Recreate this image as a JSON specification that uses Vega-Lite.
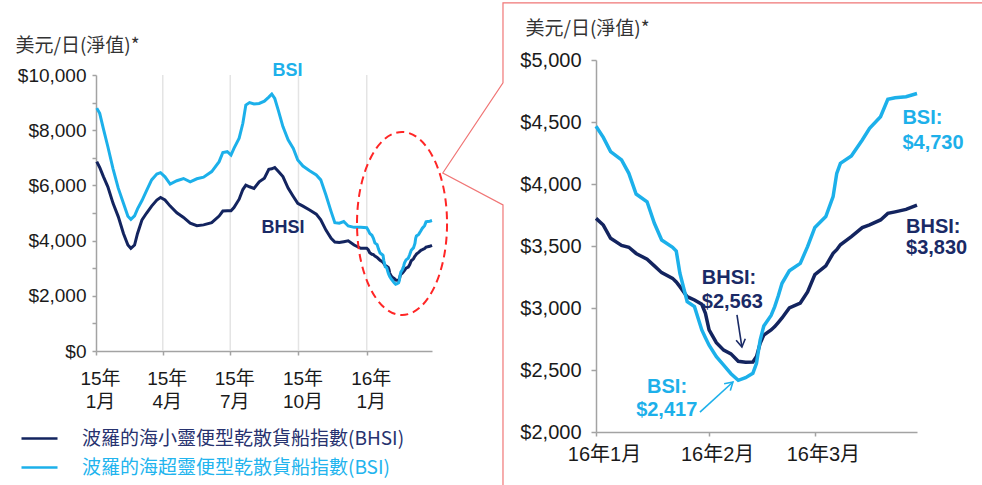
{
  "$schema": "https://vega.github.io/schema/vega-lite/v6.json",
  "width": 982,
  "height": 485,
  "autosize": {"type": "none"},
  "padding": 0,
  "background": "white",
  "config": {
    "view": {"stroke": null},
    "axis": {
      "labelFont": "Liberation Sans, Noto Sans CJK TC",
      "labelFontSize": 19,
      "labelColor": "#1a1a1a",
      "labelOverlap": false,
      "labelFlush": false,
      "domainColor": "#a3a3a3",
      "domainWidth": 1.5,
      "tickColor": "#a3a3a3",
      "tickWidth": 1.5,
      "tickSize": 4,
      "grid": false,
      "titleFont": "Noto Sans CJK TC",
      "titleFontSize": 19,
      "titleFontWeight": "normal",
      "titleColor": "#333333"
    }
  },
  "datasets": {
    "idx": [
      {"date": "2015-01-02", "BSI": 8800, "BHSI": 6860},
      {"date": "2015-01-06", "BSI": 8610, "BHSI": 6650},
      {"date": "2015-01-11", "BSI": 8050, "BHSI": 6320},
      {"date": "2015-01-17", "BSI": 7400, "BHSI": 5950},
      {"date": "2015-01-24", "BSI": 6600, "BHSI": 5350},
      {"date": "2015-01-31", "BSI": 5900, "BHSI": 4870},
      {"date": "2015-02-07", "BSI": 5350, "BHSI": 4260},
      {"date": "2015-02-13", "BSI": 4880, "BHSI": 3840},
      {"date": "2015-02-17", "BSI": 4770, "BHSI": 3720},
      {"date": "2015-02-22", "BSI": 4900, "BHSI": 3840},
      {"date": "2015-02-26", "BSI": 5150, "BHSI": 4260},
      {"date": "2015-03-04", "BSI": 5450, "BHSI": 4750},
      {"date": "2015-03-10", "BSI": 5800, "BHSI": 4990},
      {"date": "2015-03-17", "BSI": 6200, "BHSI": 5250},
      {"date": "2015-03-24", "BSI": 6410, "BHSI": 5470},
      {"date": "2015-03-29", "BSI": 6460, "BHSI": 5560},
      {"date": "2015-04-04", "BSI": 6310, "BHSI": 5470},
      {"date": "2015-04-11", "BSI": 6050, "BHSI": 5250},
      {"date": "2015-04-20", "BSI": 6170, "BHSI": 5010},
      {"date": "2015-04-29", "BSI": 6250, "BHSI": 4840},
      {"date": "2015-05-08", "BSI": 6130, "BHSI": 4630},
      {"date": "2015-05-17", "BSI": 6240, "BHSI": 4540},
      {"date": "2015-05-26", "BSI": 6300, "BHSI": 4570},
      {"date": "2015-06-06", "BSI": 6500, "BHSI": 4650},
      {"date": "2015-06-16", "BSI": 6860, "BHSI": 4890},
      {"date": "2015-06-21", "BSI": 7190, "BHSI": 5070},
      {"date": "2015-06-27", "BSI": 7220, "BHSI": 5080},
      {"date": "2015-07-02", "BSI": 7100, "BHSI": 5080},
      {"date": "2015-07-06", "BSI": 7340, "BHSI": 5200},
      {"date": "2015-07-13", "BSI": 7710, "BHSI": 5500},
      {"date": "2015-07-18", "BSI": 8250, "BHSI": 5850},
      {"date": "2015-07-22", "BSI": 8910, "BHSI": 6010},
      {"date": "2015-07-27", "BSI": 9000, "BHSI": 5950},
      {"date": "2015-08-02", "BSI": 8950, "BHSI": 5890},
      {"date": "2015-08-09", "BSI": 8970, "BHSI": 6130},
      {"date": "2015-08-16", "BSI": 9050, "BHSI": 6260},
      {"date": "2015-08-22", "BSI": 9200, "BHSI": 6580},
      {"date": "2015-08-26", "BSI": 9310, "BHSI": 6600},
      {"date": "2015-08-30", "BSI": 9150, "BHSI": 6650},
      {"date": "2015-09-04", "BSI": 8700, "BHSI": 6500},
      {"date": "2015-09-10", "BSI": 8130, "BHSI": 6320},
      {"date": "2015-09-17", "BSI": 7650, "BHSI": 5900},
      {"date": "2015-09-24", "BSI": 7340, "BHSI": 5600},
      {"date": "2015-09-30", "BSI": 6920, "BHSI": 5350},
      {"date": "2015-10-07", "BSI": 6700, "BHSI": 5250},
      {"date": "2015-10-16", "BSI": 6530, "BHSI": 5110},
      {"date": "2015-10-25", "BSI": 6380, "BHSI": 4960},
      {"date": "2015-10-31", "BSI": 6200, "BHSI": 4750},
      {"date": "2015-11-07", "BSI": 5650, "BHSI": 4380},
      {"date": "2015-11-14", "BSI": 5050, "BHSI": 4080},
      {"date": "2015-11-19", "BSI": 4650, "BHSI": 3950},
      {"date": "2015-11-25", "BSI": 4630, "BHSI": 3930},
      {"date": "2015-12-01", "BSI": 4690, "BHSI": 3960},
      {"date": "2015-12-07", "BSI": 4530, "BHSI": 3990},
      {"date": "2015-12-15", "BSI": 4480, "BHSI": 3840},
      {"date": "2015-12-24", "BSI": 4480, "BHSI": 3720},
      {"date": "2016-01-01", "BSI": 4465, "BHSI": 3723},
      {"date": "2016-01-03", "BSI": 4376, "BHSI": 3669},
      {"date": "2016-01-05", "BSI": 4261, "BHSI": 3562},
      {"date": "2016-01-08", "BSI": 4194, "BHSI": 3505},
      {"date": "2016-01-10", "BSI": 4086, "BHSI": 3490},
      {"date": "2016-01-12", "BSI": 3919, "BHSI": 3440},
      {"date": "2016-01-15", "BSI": 3857, "BHSI": 3393},
      {"date": "2016-01-17", "BSI": 3683, "BHSI": 3340},
      {"date": "2016-01-19", "BSI": 3548, "BHSI": 3285},
      {"date": "2016-01-22", "BSI": 3490, "BHSI": 3239},
      {"date": "2016-01-23", "BSI": 3460, "BHSI": 3210},
      {"date": "2016-01-24", "BSI": 3280, "BHSI": 3172},
      {"date": "2016-01-26", "BSI": 3051, "BHSI": 3091},
      {"date": "2016-01-28", "BSI": 3011, "BHSI": 3065},
      {"date": "2016-01-30", "BSI": 2823, "BHSI": 3030},
      {"date": "2016-01-31", "BSI": 2760, "BHSI": 2957},
      {"date": "2016-02-01", "BSI": 2700, "BHSI": 2823},
      {"date": "2016-02-03", "BSI": 2608, "BHSI": 2720},
      {"date": "2016-02-05", "BSI": 2540, "BHSI": 2660},
      {"date": "2016-02-07", "BSI": 2470, "BHSI": 2630},
      {"date": "2016-02-09", "BSI": 2417, "BHSI": 2570},
      {"date": "2016-02-11", "BSI": 2438, "BHSI": 2563},
      {"date": "2016-02-13", "BSI": 2473, "BHSI": 2565},
      {"date": "2016-02-14", "BSI": 2554, "BHSI": 2608},
      {"date": "2016-02-15", "BSI": 2742, "BHSI": 2715},
      {"date": "2016-02-16", "BSI": 2855, "BHSI": 2782},
      {"date": "2016-02-18", "BSI": 2940, "BHSI": 2823},
      {"date": "2016-02-19", "BSI": 3011, "BHSI": 2850},
      {"date": "2016-02-20", "BSI": 3100, "BHSI": 2885},
      {"date": "2016-02-21", "BSI": 3199, "BHSI": 2920},
      {"date": "2016-02-23", "BSI": 3300, "BHSI": 3000},
      {"date": "2016-02-26", "BSI": 3360, "BHSI": 3040},
      {"date": "2016-02-28", "BSI": 3495, "BHSI": 3130},
      {"date": "2016-03-01", "BSI": 3650, "BHSI": 3270},
      {"date": "2016-03-04", "BSI": 3737, "BHSI": 3340},
      {"date": "2016-03-06", "BSI": 3898, "BHSI": 3441},
      {"date": "2016-03-07", "BSI": 4086, "BHSI": 3470},
      {"date": "2016-03-08", "BSI": 4167, "BHSI": 3510},
      {"date": "2016-03-11", "BSI": 4226, "BHSI": 3575},
      {"date": "2016-03-14", "BSI": 4355, "BHSI": 3648},
      {"date": "2016-03-16", "BSI": 4449, "BHSI": 3670},
      {"date": "2016-03-19", "BSI": 4543, "BHSI": 3710},
      {"date": "2016-03-21", "BSI": 4683, "BHSI": 3763},
      {"date": "2016-03-23", "BSI": 4696, "BHSI": 3775},
      {"date": "2016-03-26", "BSI": 4704, "BHSI": 3795},
      {"date": "2016-03-29", "BSI": 4730, "BHSI": 3830}
    ],
    "quarters": [
      {"date": "2015-04-01"},
      {"date": "2015-07-01"},
      {"date": "2015-10-01"},
      {"date": "2016-01-01"}
    ],
    "focus": [
      {"date": "2016-02-17T14:00:00Z", "value": 4620}
    ],
    "callout": [
      {"pt": 1, "date": "2016-04-18", "value": 5460},
      {"pt": 2, "date": "2015-12-06T12:00:00Z", "value": 5460},
      {"pt": 3, "date": "2015-12-06T12:00:00Z", "value": 4815},
      {"pt": 4, "date": "2015-11-20", "value": 4089},
      {"pt": 5, "date": "2015-12-06T12:00:00Z", "value": 3831},
      {"pt": 6, "date": "2015-12-06T12:00:00Z", "value": 1532}
    ],
    "labelsL": [
      {"date": "2015-08-27", "value": 10145, "text": "BSI", "series": "BSI"},
      {"date": "2015-08-12", "value": 4457, "text": "BHSI", "series": "BHSI"}
    ],
    "labelsR": [
      {"date": "2016-03-25", "value": 4532, "text": "BSI:", "series": "BSI"},
      {"date": "2016-03-25", "value": 4331, "text": "$4,730", "series": "BSI"},
      {"date": "2016-03-26", "value": 3653, "text": "BHSI:", "series": "BHSI"},
      {"date": "2016-03-26", "value": 3484, "text": "$3,830", "series": "BHSI"},
      {"date": "2016-01-30", "value": 3242, "text": "BHSI:", "series": "BHSI"},
      {"date": "2016-01-30", "value": 3048, "text": "$2,563", "series": "BHSI"},
      {"date": "2016-01-15", "value": 2363, "text": "BSI:", "series": "BSI"},
      {"date": "2016-01-12", "value": 2177, "text": "$2,417", "series": "BSI"}
    ],
    "arrows": [
      {"series": "BHSI", "date": "2016-02-08T15:30:00Z", "value": 2944, "date2": "2016-02-10T00:00:00Z", "value2": 2685},
      {"series": "BSI", "date": "2016-01-29T12:00:00Z", "value": 2161, "date2": "2016-02-07T13:00:00Z", "value2": 2403}
    ]
  },
  "layer": [
    {
      "layer": [
        {
          "data": {"name": "quarters"},
          "mark": {"type": "rule", "color": "#e4e4e4", "strokeWidth": 1.5},
          "encoding": {
            "x": {"field": "date", "type": "temporal", "scale": {"type": "utc", "domain": [{"year": 2015, "month": 1, "date": 1, "utc": true}, {"year": 2016, "month": 3, "date": 29, "utc": true}], "range": [96, 432]}},
            "y": {"datum": 0, "type": "quantitative"},
            "y2": {"datum": 10000}
          }
        },
        {
          "data": {"name": "idx"},
          "transform": [{"fold": ["BHSI", "BSI"], "as": ["series", "value"]}],
          "mark": {"type": "line", "strokeWidth": 3},
          "encoding": {
            "x": {
              "field": "date", "type": "temporal",
              "scale": {"type": "utc", "domain": [{"year": 2015, "month": 1, "date": 1, "utc": true}, {"year": 2016, "month": 3, "date": 29, "utc": true}], "range": [96, 432]},
              "axis": {
                "orient": "bottom", "offset": -134, "title": null,
                "values": [{"year": 2015, "month": 1, "date": 1, "utc": true}, {"year": 2015, "month": 4, "date": 1, "utc": true}, {"year": 2015, "month": 7, "date": 1, "utc": true}, {"year": 2015, "month": 10, "date": 1, "utc": true}, {"year": 2016, "month": 1, "date": 1, "utc": true}],
                "labelExpr": "[utcFormat(datum.value, '%y') + '年', utcFormat(datum.value, '%-m') + '月']",
                "labelLineHeight": 23, "labelPadding": 14, "labelOffset": 4, "tickSize": 4
              }
            },
            "y": {
              "field": "value", "type": "quantitative",
              "scale": {"domain": [0, 10000], "range": [351, 75], "nice": false},
              "axis": {
                "orient": "left", "offset": -96,
                "values": [0, 1000, 2000, 3000, 4000, 5000, 6000, 7000, 8000, 9000, 10000],
                "labelExpr": "datum.value % 2000 === 0 ? '$' + format(datum.value, ',') : ''",
                "tickSize": 4, "labelPadding": 6,
                "title": "美元/日(淨值)*", "titleAngle": 0, "titleAlign": "left", "titleBaseline": "middle", "titleX": -81, "titleY": 45
              }
            },
            "color": {
              "field": "series", "type": "nominal",
              "scale": {"domain": ["BHSI", "BSI"], "range": ["#13245f", "#1cb0ea"]},
              "legend": {
                "orient": "none", "legendX": 30, "legendY": 429, "title": null, "direction": "vertical",
                "symbolType": "M -3 0 L 3 0", "symbolSize": 144, "symbolStrokeWidth": 2.5,
                "labelFont": "Noto Sans CJK TC", "labelFontSize": 19, "labelLimit": 700, "labelOffset": 33,
                "rowPadding": 9, "padding": 0,
                "labelExpr": "datum.value === 'BHSI' ? '波羅的海小靈便型乾散貨船指數(BHSI)' : '波羅的海超靈便型乾散貨船指數(BSI)'",
                "encode": {"labels": {"update": {"fill": {"signal": "datum.value === 'BHSI' ? '#27326f' : '#22b4ee'"}}}}
              }
            }
          }
        },
        {
          "data": {"name": "focus"},
          "mark": {"type": "point", "shape": "M 0.492 0 C 0.492 0.5523 0.2717 1 0 1 C -0.2717 1 -0.492 0.5523 -0.492 0 C -0.492 -0.5523 -0.2717 -1 0 -1 C 0.2717 -1 0.492 -0.5523 0.492 0 Z", "size": 33489, "filled": false, "stroke": "#ff2626", "strokeWidth": 2, "strokeDash": [8, 5], "opacity": 1},
          "encoding": {
            "x": {"field": "date", "type": "temporal"},
            "y": {"field": "value", "type": "quantitative"}
          }
        },
        {
          "data": {"name": "labelsL"},
          "mark": {"type": "text", "align": "left", "baseline": "middle", "font": "Liberation Sans", "fontWeight": "bold", "fontSize": 18},
          "encoding": {
            "x": {"field": "date", "type": "temporal"},
            "y": {"field": "value", "type": "quantitative"},
            "text": {"field": "text"},
            "color": {"condition": {"test": "datum.series === 'BSI'", "value": "#1db0ea"}, "value": "#1a2a66"}
          }
        }
      ]
    },
    {
      "layer": [
        {
          "data": {"name": "callout"},
          "mark": {"type": "line", "color": "#f07676", "strokeWidth": 1.2},
          "encoding": {
            "x": {"field": "date", "type": "temporal", "scale": {"type": "utc", "domain": [{"year": 2016, "month": 1, "date": 1, "utc": true}, {"year": 2016, "month": 3, "date": 29, "utc": true}], "range": [596, 917]}},
            "y": {"field": "value", "type": "quantitative", "scale": {"domain": [2000, 5000], "range": [432, 60], "nice": false, "zero": false}},
            "order": {"field": "pt"}
          }
        },
        {
          "data": {"name": "idx"},
          "transform": [{"filter": "utcyear(toDate(datum.date)) >= 2016"}, {"fold": ["BHSI", "BSI"], "as": ["series", "value"]}],
          "mark": {"type": "line", "strokeWidth": 3.5},
          "encoding": {
            "x": {
              "field": "date", "type": "temporal",
              "scale": {"type": "utc", "domain": [{"year": 2016, "month": 1, "date": 1, "utc": true}, {"year": 2016, "month": 3, "date": 29, "utc": true}], "range": [596, 917]},
              "axis": {
                "orient": "bottom", "offset": -53, "title": null,
                "values": [{"year": 2016, "month": 1, "date": 1, "utc": true}, {"year": 2016, "month": 2, "date": 1, "utc": true}, {"year": 2016, "month": 3, "date": 1, "utc": true}],
                "labelExpr": "utcFormat(datum.value, '%y') + '年' + utcFormat(datum.value, '%-m') + '月'",
                "labelFontSize": 20, "labelPadding": 8, "labelOffset": 8, "tickSize": 4
              }
            },
            "y": {
              "field": "value", "type": "quantitative",
              "scale": {"domain": [2000, 5000], "range": [432, 60], "nice": false, "zero": false},
              "axis": {
                "orient": "left", "offset": -596,
                "values": [2000, 2500, 3000, 3500, 4000, 4500, 5000],
                "labelExpr": "'$' + format(datum.value, ',')",
                "tickSize": 5, "labelPadding": 10, "labelFontSize": 20,
                "title": "美元/日(淨值)*", "titleAngle": 0, "titleAlign": "left", "titleBaseline": "middle", "titleX": -71, "titleY": 28
              }
            },
            "color": {
              "field": "series", "type": "nominal",
              "scale": {"domain": ["BHSI", "BSI"], "range": ["#13245f", "#1cb0ea"]},
              "legend": null
            }
          }
        },
        {
          "data": {"name": "labelsR"},
          "mark": {"type": "text", "align": "left", "baseline": "middle", "font": "Liberation Sans", "fontWeight": "bold", "fontSize": 20},
          "encoding": {
            "x": {"field": "date", "type": "temporal"},
            "y": {"field": "value", "type": "quantitative"},
            "text": {"field": "text"},
            "color": {"condition": {"test": "datum.series === 'BSI'", "value": "#1db0ea"}, "value": "#1a2a66"}
          }
        },
        {
          "data": {"name": "arrows"},
          "mark": {"type": "rule", "strokeWidth": 1.6},
          "encoding": {
            "x": {"field": "date", "type": "temporal"},
            "y": {"field": "value", "type": "quantitative"},
            "x2": {"field": "date2"},
            "y2": {"field": "value2"},
            "color": {"condition": {"test": "datum.series === 'BSI'", "value": "#1db0ea"}, "value": "#1a2a66"}
          }
        },
        {
          "data": {"name": "arrows"},
          "transform": [{"filter": "datum.series === 'BHSI'"}],
          "mark": {"type": "point", "shape": "M -0.6 -1 L 0 0 L 0.6 -1", "size": 237, "filled": false, "strokeWidth": 1.6, "opacity": 1, "angle": -9, "stroke": "#1a2a66"},
          "encoding": {
            "x": {"field": "date2", "type": "temporal"},
            "y": {"field": "value2", "type": "quantitative"}
          }
        },
        {
          "data": {"name": "arrows"},
          "transform": [{"filter": "datum.series === 'BSI'"}],
          "mark": {"type": "point", "shape": "M -0.6 -1 L 0 0 L 0.6 -1", "size": 237, "filled": false, "strokeWidth": 1.6, "opacity": 1, "angle": 228, "stroke": "#1db0ea"},
          "encoding": {
            "x": {"field": "date2", "type": "temporal"},
            "y": {"field": "value2", "type": "quantitative"}
          }
        }
      ]
    }
  ],
  "resolve": {
    "scale": {"x": "independent", "y": "independent", "color": "independent"},
    "axis": {"x": "independent", "y": "independent"},
    "legend": {"color": "independent"}
  }
}
